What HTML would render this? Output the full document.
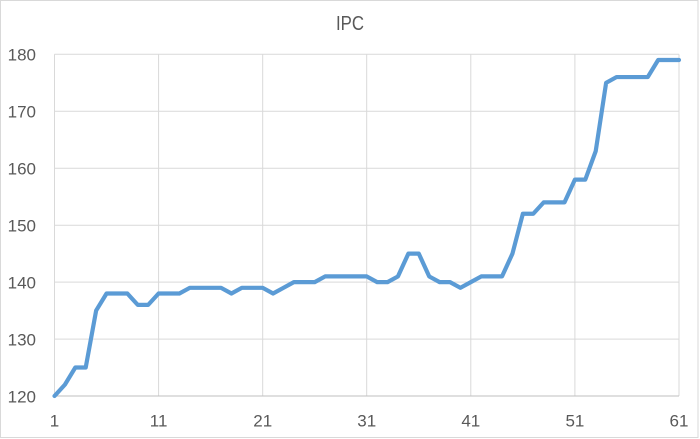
<!DOCTYPE html>
<html><head><meta charset="utf-8"><style>
html,body{margin:0;padding:0;background:#fff;}
svg{display:block;}
text{font-family:"Liberation Sans",sans-serif;fill:#595959;}
</style></head><body>
<svg width="700" height="439" viewBox="0 0 700 439" xmlns="http://www.w3.org/2000/svg">
<rect x="0" y="0" width="700" height="439" fill="#fff"/>
<rect x="0.5" y="0.5" width="697.5" height="437" fill="none" stroke="#d9d9d9" stroke-width="1"/>
<text x="350" y="30" font-size="20" text-anchor="middle" textLength="28" lengthAdjust="spacingAndGlyphs">IPC</text>
<g stroke="#d9d9d9" stroke-width="1" fill="none">
<line x1="54.5" y1="54.3" x2="679" y2="54.3"/>
<line x1="54.5" y1="111.3" x2="679" y2="111.3"/>
<line x1="54.5" y1="168.3" x2="679" y2="168.3"/>
<line x1="54.5" y1="225.2" x2="679" y2="225.2"/>
<line x1="54.5" y1="282.1" x2="679" y2="282.1"/>
<line x1="54.5" y1="339.1" x2="679" y2="339.1"/>
<line x1="54.5" y1="54.3" x2="54.5" y2="396"/>
<line x1="158.6" y1="54.3" x2="158.6" y2="396"/>
<line x1="262.7" y1="54.3" x2="262.7" y2="396"/>
<line x1="366.7" y1="54.3" x2="366.7" y2="396"/>
<line x1="470.8" y1="54.3" x2="470.8" y2="396"/>
<line x1="574.9" y1="54.3" x2="574.9" y2="396"/>
<line x1="679" y1="54.3" x2="679" y2="396"/>
</g>
<line x1="54.5" y1="396" x2="679" y2="396" stroke="#bfbfbf" stroke-width="1"/>
<g font-size="17" text-anchor="end">
<text x="36" y="60.6">180</text>
<text x="36" y="117.6">170</text>
<text x="36" y="174.6">160</text>
<text x="36" y="231.5">150</text>
<text x="36" y="288.4">140</text>
<text x="36" y="345.4">130</text>
<text x="36" y="402.3">120</text>
</g>
<g font-size="17" text-anchor="middle">
<text x="54.5" y="426.7">1</text>
<text x="158.6" y="426.7">11</text>
<text x="262.7" y="426.7">21</text>
<text x="366.7" y="426.7">31</text>
<text x="470.8" y="426.7">41</text>
<text x="574.9" y="426.7">51</text>
<text x="679" y="426.7">61</text>
</g>
<polyline fill="none" stroke="#5b9bd5" stroke-width="4.2" stroke-linejoin="round" stroke-linecap="round" points="
54.5,396 64.91,384.61 75.32,367.53 85.72,367.53 96.13,310.58 106.54,293.49 116.95,293.49 127.36,293.49 137.76,304.88 148.17,304.88
158.58,293.49 168.99,293.49 179.40,293.49 189.80,287.80 200.21,287.80 210.62,287.80 221.03,287.80 231.44,293.49 241.84,287.80 252.25,287.80
262.66,287.80 273.07,293.49 283.48,287.80 293.88,282.10 304.29,282.10 314.70,282.10 325.11,276.41 335.52,276.41 345.92,276.41 356.33,276.41
366.74,276.41 377.15,282.10 387.56,282.10 397.96,276.41 408.37,253.63 418.78,253.63 429.19,276.41 439.60,282.10 450.00,282.10 460.41,287.80
470.82,282.10 481.23,276.41 491.64,276.41 502.04,276.41 512.45,253.63 522.86,213.76 533.27,213.76 543.68,202.37 554.08,202.37 564.49,202.37
574.90,179.59 585.31,179.59 595.72,151.12 606.12,82.78 616.53,77.08 626.94,77.08 637.35,77.08 647.76,77.08 658.16,60.00 668.57,60.00 678.98,60.00"/>
</svg>
</body></html>
